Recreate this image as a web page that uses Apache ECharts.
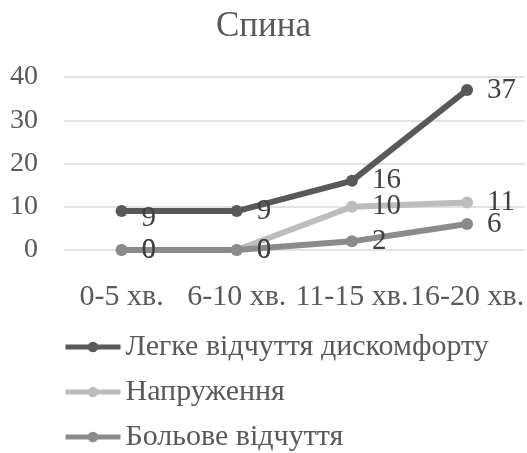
<!DOCTYPE html>
<html>
<head>
<meta charset="utf-8">
<script src="https://cdn.jsdelivr.net/npm/echarts@6/dist/echarts.min.js"></script>
<style>
  html, body { margin: 0; padding: 0; background: #fff; }
  #chart { width: 527px; height: 453px; }
</style>
</head>
<body>
<div id="chart"></div>
<script>
// Time intervals and counts for each sensation
const categories = ['0-5 хв.', '6-10 хв.', '11-15 хв.', '16-20 хв.'];
const seriesNames = ['Легке відчуття дискомфорту', 'Напруження', 'Больове відчуття'];
const discomfort = [9, 9, 16, 37];
const tension = [0, 0, 10, 11];
const pain = [0, 0, 2, 6];
const yTicks = [0, 10, 20, 30, 40];

const FONT = "'Liberation Serif', 'Times New Roman', serif";
const colors = ['#595959', '#bdbdbd', '#8b8b8b'];
const values = [discomfort, tension, pain];

const chart = echarts.init(document.getElementById('chart'), null, { renderer: 'canvas' });

const series = values.map((vals, i) => ({
  name: seriesNames[i],
  type: 'line',
  data: vals.map((v, j) => {
    const item = { value: v };
    // first discomfort label sits a little lower than the rest
    if (i === 0 && j === 0) item.label = { offset: [0, 7] };
    return item;
  }),
  symbol: 'circle',
  symbolSize: 12,
  lineStyle: { width: 6, color: colors[i] },
  itemStyle: { color: colors[i] },
  emphasis: { disabled: true },
  z: 2 + i,
  label: {
    show: true,
    position: 'right',
    distance: 14,
    fontFamily: FONT,
    fontSize: 29,
    color: '#404040'
  }
}));

chart.setOption({
  animation: false,
  backgroundColor: '#ffffff',
  textStyle: { fontFamily: FONT },
  title: {
    text: 'Спина',
    left: 'center',
    top: 4,
    textStyle: { fontFamily: FONT, fontSize: 35, fontWeight: 'normal', color: '#595959' }
  },
  grid: { left: 64, right: 1, top: 77, bottom: 203, containLabel: false },
  xAxis: {
    type: 'category',
    data: categories,
    boundaryGap: true,
    axisLine: { show: false },
    axisTick: { show: false },
    axisLabel: {
      interval: 0,
      margin: 32,
      fontFamily: FONT,
      fontSize: 30,
      color: '#595959'
    }
  },
  yAxis: {
    type: 'value',
    min: yTicks[0],
    max: yTicks[yTicks.length - 1],
    interval: yTicks[1] - yTicks[0],
    axisLine: { show: false },
    axisTick: { show: false },
    splitLine: { lineStyle: { color: '#d9d9d9', width: 1.5 } },
    axisLabel: {
      margin: 26,
      fontFamily: FONT,
      fontSize: 28,
      color: '#595959'
    }
  },
  legend: {
    orient: 'vertical',
    left: 63,
    top: 332,
    padding: 0,
    itemWidth: 55,
    itemHeight: 13,
    itemGap: 15,
    lineStyle: { width: 5 },
    data: seriesNames,
    textStyle: { fontFamily: FONT, fontSize: 30, color: '#595959', lineHeight: 30 }
  },
  series: series
});
</script>
</body>
</html>
